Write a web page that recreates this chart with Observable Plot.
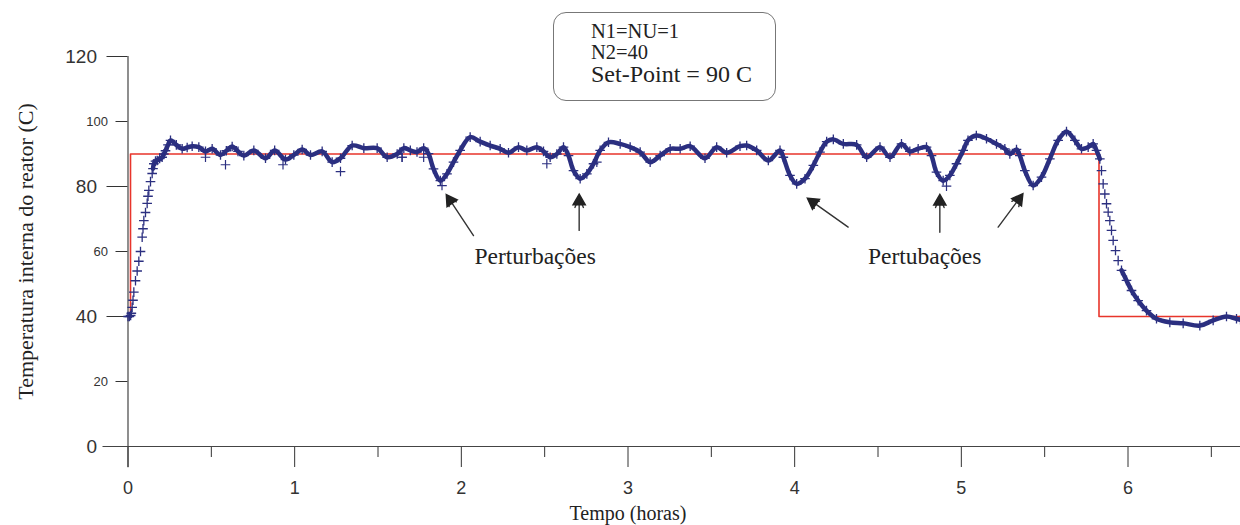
<!DOCTYPE html>
<html>
<head>
<meta charset="utf-8">
<script src="https://cdn.jsdelivr.net/npm/d3@7"></script>
<script src="https://cdn.jsdelivr.net/npm/@observablehq/plot@0.6"></script>
<style>
  html, body { margin: 0; padding: 0; background: #fff; }
  #wrap { position: relative; width: 1240px; height: 525px; overflow: hidden; }
  .box { position: absolute; left: 553px; top: 12px; width: 223px; height: 89px; box-sizing: border-box;
         border: 1.5px solid #777; border-radius: 13px; }
  .ln { position: absolute; left: 591px; font-family: "Liberation Serif", "Times New Roman", serif; color: #222; line-height: 1; white-space: nowrap; }
</style>
</head>
<body>
<div id="wrap">
  <div class="box"></div>
  <div class="ln" style="top:21px;font-size:20.5px">N1=NU=1</div>
  <div class="ln" style="top:42px;font-size:20.5px">N2=40</div>
  <div class="ln" style="top:62px;font-size:24px">Set-Point = 90 C</div>
</div>
<script>
// Temperatura medida (horas, °C)
const tempo = [
  0.000, 0.008, 0.016, 0.020, 0.025, 0.030, 0.035, 0.045, 0.055, 0.065, 0.075, 0.085, 0.090, 0.095,
  0.105, 0.115, 0.120, 0.125, 0.135, 0.145, 0.150, 0.155, 0.165, 0.175, 0.190, 0.205, 0.215, 0.225,
  0.240, 0.255, 0.290, 0.325, 0.355, 0.385, 0.425, 0.465, 0.505, 0.555, 0.590, 0.625, 0.660, 0.695,
  0.755, 0.825, 0.880, 0.945, 0.995, 1.045, 1.095, 1.165, 1.225, 1.275, 1.345, 1.415, 1.495, 1.555,
  1.615, 1.655, 1.694, 1.734, 1.774, 1.803, 1.833, 1.874, 1.914, 1.953, 1.993, 2.053, 2.113, 2.173,
  2.233, 2.283, 2.343, 2.393, 2.453, 2.493, 2.533, 2.573, 2.613, 2.643, 2.673, 2.713, 2.753, 2.793,
  2.833, 2.883, 2.953, 3.013, 3.073, 3.133, 3.193, 3.253, 3.313, 3.373, 3.462, 3.532, 3.592, 3.672,
  3.712, 3.772, 3.842, 3.912, 3.932, 3.972, 4.012, 4.062, 4.112, 4.152, 4.192, 4.232, 4.292, 4.372,
  4.432, 4.512, 4.572, 4.641, 4.691, 4.741, 4.791, 4.821, 4.851, 4.891, 4.931, 4.971, 5.011, 5.040,
  5.090, 5.151, 5.211, 5.261, 5.291, 5.331, 5.351, 5.381, 5.431, 5.481, 5.531, 5.581, 5.631, 5.681,
  5.721, 5.761, 5.791, 5.811, 5.831, 5.841, 5.851, 5.861, 5.871, 5.881, 5.891, 5.901, 5.911, 5.925,
  5.941, 5.961, 5.991, 6.021, 6.061, 6.111, 6.171, 6.251, 6.331, 6.431, 6.511, 6.591, 6.651, 6.675
];
const temperatura = [
  40.0, 40.0, 40.3, 41.0, 42.8, 45.0, 47.5, 51.0, 54.0, 57.0, 60.0, 64.4, 67.0, 69.5,
  72.0, 74.8, 77.0, 78.8, 81.5, 84.0, 85.5, 87.0, 87.8, 88.0, 88.6, 89.0, 90.0, 91.0,
  92.8, 94.2, 92.8, 91.6, 92.0, 92.4, 92.1, 90.8, 91.6, 89.7, 91.0, 92.3, 90.8, 89.5,
  91.1, 88.7, 91.1, 88.3, 89.7, 91.4, 89.7, 90.8, 87.5, 88.7, 92.6, 91.8, 91.8, 89.0,
  90.0, 91.8, 91.1, 90.6, 91.8, 90.1, 85.4, 81.8, 83.9, 87.5, 91.1, 95.2, 93.8, 92.6,
  91.6, 90.4, 92.1, 91.1, 92.1, 90.8, 89.0, 90.0, 92.1, 89.5, 84.9, 82.4, 83.9, 87.0,
  91.1, 93.6, 93.1, 92.1, 90.6, 87.5, 89.5, 91.6, 91.6, 92.4, 88.7, 92.1, 90.4, 92.4,
  92.6, 91.1, 88.0, 91.1, 89.0, 83.4, 80.8, 82.4, 86.5, 90.6, 93.8, 94.5, 93.1, 92.8,
  89.0, 92.1, 89.0, 93.1, 90.8, 91.6, 92.1, 89.5, 84.4, 81.8, 83.4, 87.0, 91.1, 94.2,
  95.7, 94.7, 93.1, 91.6, 90.0, 91.4, 89.5, 84.9, 80.3, 82.9, 88.5, 94.2, 96.9, 94.2,
  91.6, 92.1, 93.1, 91.1, 88.5, 84.9, 80.8, 77.7, 74.7, 72.1, 69.5, 66.5, 63.4, 60.3,
  57.2, 54.2, 51.1, 48.0, 44.9, 41.8, 39.3, 38.2, 37.9, 37.2, 38.8, 40.0, 39.3, 39.0
];
// pontos isolados
const isoTempo = [0.465, 0.585, 0.930, 1.275, 1.645, 1.644, 1.774, 1.884, 2.513, 2.813, 4.911];
const isoTemp  = [89.0, 86.7, 86.7, 84.6, 89.0, 89.0, 89.0, 80.3, 87.0, 87.5, 80.1];
// set-point (degrau)
const spTempo = [0, 0.015, 5.826, 6.675];
const spValor = [40, 90, 40, 40];
// ticks
const yMajor = [0, 40, 80, 120];
const yMinor = [20, 60, 100];
const xMajor = [0, 1, 2, 3, 4, 5, 6];
const xMinor = [0.5, 1.5, 2.5, 3.5, 4.5, 5.5, 6.5];
// anotações
const anotTexto = ["Perturbações", "Pertubações"];
const anotX = [2.443, 4.78];
const anotY = [58.5, 58.5];
const setaX1 = [2.073, 2.707, 4.321, 4.871, 5.221];
const setaY1 = [64.9, 66.5, 67.5, 65.9, 67.5];
const setaX2 = [1.914, 2.707, 4.082, 4.871, 5.361];
const setaY2 = [77.2, 76.7, 76.2, 76.7, 77.2];

const W = 1240, H = 525, mL = 127.5, mR = 0, mT = 56, mB = 79;
const xDom = [0, 6.675], yDom = [0, 120];
const kx = (W - mL - mR) / (xDom[1] - xDom[0]);
const ky = (H - mT - mB) / (yDom[1] - yDom[0]);

const dados = tempo.map((t, i) => ({t, T: temperatura[i]}));
const iso = isoTempo.map((t, i) => ({t, T: isoTemp[i]}));
const sp = spTempo.map((t, i) => ({t, v: spValor[i]}));
const anot = anotTexto.map((s, i) => ({s, x: anotX[i], y: anotY[i]}));
const setas = setaX1.map((x1, i) => ({x1, y1: setaY1[i], x2: setaX2[i], y2: setaY2[i]}));

const azul = "#2b2f80", vermelho = "#e8352b", eixo = "#444";
const serif = "Liberation Serif, Times New Roman, serif";

const chart = Plot.plot({
  width: W, height: H,
  marginLeft: mL, marginRight: mR, marginTop: mT, marginBottom: mB,
  x: {domain: xDom},
  y: {domain: yDom},
  style: {fontFamily: "Liberation Sans, Arial, sans-serif", background: "white", overflow: "visible"},
  marks: [
    Plot.axisY(yMajor, {tickSize: 21, tickPadding: 10, fontSize: 19, color: "#333", label: null, tickFormat: d3.format("d")}),
    Plot.axisY(yMinor, {tickSize: 12, tickPadding: 8, fontSize: 13, color: "#333", label: null, tickFormat: d3.format("d")}),
    Plot.axisX(xMajor, {tickSize: 21, tickPadding: 14, fontSize: 18, color: "#333", label: null, tickFormat: d3.format("d")}),
    Plot.axisX(xMinor, {tickSize: 11, tickFormat: () => "", color: "#333", label: null}),
    Plot.ruleY([0], {x1: -0.15, x2: xDom[1], stroke: eixo, strokeWidth: 1.2}),
    Plot.ruleX([0], {y1: -6.5, y2: 120, stroke: eixo, strokeWidth: 1.2}),
    Plot.line(sp, {x: "t", y: "v", curve: "step-after", stroke: vermelho, strokeWidth: 1.6}),
    Plot.line(dados, {filter: d => d.t >= 0.15 && d.t <= 5.835, x: "t", y: "T", stroke: azul, strokeWidth: 4.5, curve: "catmull-rom"}),
    Plot.line(dados, {filter: d => d.t >= 5.955, x: "t", y: "T", stroke: azul, strokeWidth: 4.5, curve: "catmull-rom"}),
    Plot.dot(dados, {x: "t", y: "T", symbol: "plus", r: 3.2, stroke: azul, strokeWidth: 1.3}),
    Plot.dot(iso, {x: "t", y: "T", symbol: "plus", r: 3.2, stroke: azul, strokeWidth: 1.2}),
    Plot.arrow(setas, {x1: "x1", y1: "y1", x2: "x2", y2: "y2", stroke: "#333", strokeWidth: 1.4, headLength: 12, headAngle: 45}),
    Plot.dot(setas, {
      x: d => d.x2 - (d.x2 - d.x1) * 0.12, y: d => d.y2 - (d.y2 - d.y1) * 0.12,
      symbol: "triangle", r: 4.5, fill: "#222", stroke: "#222",
      rotate: d => Math.atan2((d.x2 - d.x1) * kx, (d.y2 - d.y1) * ky) * 180 / Math.PI
    }),
    Plot.text(anot, {x: "x", y: "y", text: "s", fontFamily: serif, fontSize: 23.5, fill: "#222"}),
    Plot.text(["Tempo (horas)"], {x: 3, y: -20.7, fontFamily: serif, fontSize: 20, fill: "#222"}),
    Plot.text(["Temperatura interna do reator (C)"], {frameAnchor: "left", dx: -102, rotate: -90, textAnchor: "middle", fontFamily: serif, fontSize: 22, fill: "#222"})
  ]
});
document.getElementById("wrap").prepend(chart);
</script>
</body>
</html>
